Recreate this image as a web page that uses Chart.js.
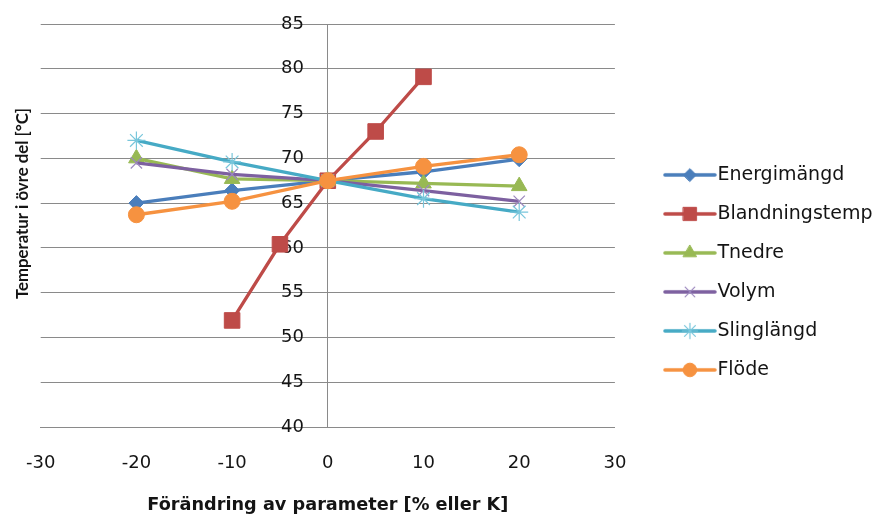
<!DOCTYPE html>
<html>
<head>
<meta charset="utf-8">
<script src="https://cdn.jsdelivr.net/npm/chart.js@4/dist/chart.umd.min.js"></script>
<style>
  html, body { margin: 0; padding: 0; background: #fff; }
  #wrap { width: 880px; height: 516px; position: relative; }
</style>
</head>
<body>
<div id="wrap"><canvas id="c" width="880" height="516"></canvas></div>
<script>
// Sensitivity of the upper-tank temperature to each parameter change
const seriesNames = ['Energimängd', 'Blandningstemp', 'Tnedre', 'Volym', 'Slinglängd', 'Flöde'];
const xChange = [-20, -10, 0, 10, 20];        // % or K, most series
const xBlandning = [-10, -5, 0, 5, 10];       // K, mixing temperature
const energimangd    = [65.0, 66.4, 67.5, 68.5, 69.9];
const blandningstemp = [51.9, 60.4, 67.5, 73.0, 79.1];
const tnedre         = [70.0, 67.7, 67.5, 67.2, 66.9];
const volym          = [69.5, 68.2, 67.5, 66.4, 65.2];
const slinglangd     = [72.0, 69.6, 67.5, 65.5, 64.0];
const flode          = [63.7, 65.2, 67.5, 69.1, 70.4];
const xTickValues = [-30, -20, -10, 0, 10, 20, 30];
const yTickValues = [40, 45, 50, 55, 60, 65, 70, 75, 80, 85];

const xTitle = 'Förändring av parameter [% eller K]';
const yTitle = 'Temperatur i övre del [°C]';

const seriesX = [xChange, xBlandning, xChange, xChange, xChange, xChange];
const seriesY = [energimangd, blandningstemp, tnedre, volym, slinglangd, flode];

const looks = [
  { color: '#4A7EBB', mark: '#4A7EBB', point: 'rectRot',  r: 7.5, bw: 1 },
  { color: '#BE4B48', mark: '#BE4B48', point: 'rect',     r: 11,  bw: 1 },
  { color: '#98B954', mark: '#98B954', point: 'triangle', r: 9,   bw: 1 },
  { color: '#7D60A0', mark: '#9C88BE', point: 'crossRot', r: 8,   bw: 1.2 },
  { color: '#46AAC5', mark: '#78C6DB', point: 'star',     r: 9,   bw: 1.2 },
  { color: '#F69240', mark: '#F69240', point: 'circle',   r: 8,   bw: 1 }
];

const FONT = '"DejaVu Sans", sans-serif';
const TEXT = '#141414';
const GRID = '#8a8a8a';
const Y_LABEL_AT = -2.5;   // x value where the y tick labels end (just left of the 0 axis)

// Legend swatch: a short line with the series marker in the middle
function legendSwatch(lk) {
  const cv = document.createElement('canvas');
  cv.width = 54; cv.height = 22;
  const g = cv.getContext('2d');
  g.strokeStyle = lk.color; g.lineWidth = 3.5; g.lineCap = 'round';
  g.beginPath(); g.moveTo(2, 11); g.lineTo(52, 11); g.stroke();
  g.fillStyle = lk.mark; g.strokeStyle = lk.mark; g.lineWidth = lk.bw;
  Chart.helpers.drawPoint(g, { pointStyle: lk.point, radius: lk.r * 0.85, rotation: 0, borderWidth: lk.bw }, 27, 11);
  return cv;
}

const datasets = seriesNames.map((name, i) => ({
  label: name,
  data: seriesX[i].map((x, k) => ({ x: x, y: seriesY[i][k] })),
  showLine: true,
  borderColor: looks[i].color,
  backgroundColor: looks[i].mark,
  borderWidth: 3.3,
  tension: 0,
  pointStyle: looks[i].point,
  pointRadius: looks[i].r,
  pointHoverRadius: looks[i].r,
  pointBackgroundColor: looks[i].mark,
  pointBorderColor: looks[i].mark,
  pointBorderWidth: looks[i].bw,
  order: seriesNames.length - i
}));

const swatches = looks.map(legendSwatch);

// Raise the rotated y-axis title a little above the middle of the plot
const yTitleLift = {
  id: 'yTitleLift',
  afterLayout(chart) {
    const s = chart.scales.yTitle;
    s.top -= 22; s.bottom -= 22;
  }
};

new Chart(document.getElementById('c'), {
  type: 'scatter',
  data: { datasets: datasets },
  plugins: [yTitleLift],
  options: {
    responsive: false,
    animation: false,
    layout: { padding: { top: 24, right: -2.5, bottom: 0, left: 0 } },
    plugins: {
      tooltip: { enabled: false },
      legend: {
        position: 'right',
        align: 'center',
        maxWidth: 320,
        title: { display: true, text: '', font: { size: 4 }, padding: 0 },
        labels: {
          usePointStyle: true,
          pointStyleWidth: 36,
          boxHeight: 19,
          padding: 20,
          color: TEXT,
          font: { family: FONT, size: 19 },
          sort: (a, b) => a.datasetIndex - b.datasetIndex,
          generateLabels: (chart) => {
            const items = Chart.defaults.plugins.legend.labels.generateLabels(chart);
            items.forEach(it => { it.pointStyle = swatches[it.datasetIndex]; });
            return items;
          }
        }
      }
    },
    scales: {
      x: {
        type: 'linear',
        position: 'bottom',
        min: xTickValues[0],
        max: xTickValues[xTickValues.length - 1],
        afterBuildTicks: (s) => { s.ticks = xTickValues.map(v => ({ value: v })); },
        afterFit: (s) => { s.height = 89; },
        ticks: { padding: 26, color: TEXT, font: { family: FONT, size: 18 } },
        grid: { display: false, drawTicks: false },
        border: { display: true, color: GRID, width: 1 },
        title: {
          display: true, text: xTitle, color: TEXT,
          font: { family: FONT, size: 17.7, weight: 'bold' },
          padding: { top: 18, bottom: 0 }
        }
      },
      y: {
        type: 'linear',
        position: { x: 0 },
        min: yTickValues[0],
        max: yTickValues[yTickValues.length - 1],
        afterBuildTicks: (s) => { s.ticks = yTickValues.map(v => ({ value: v })); },
        ticks: { display: false },
        grid: { color: GRID, lineWidth: 1, drawTicks: false },
        border: { display: true, color: GRID, width: 1 }
      },
      yLab: {
        type: 'linear',
        axis: 'y',
        position: { x: Y_LABEL_AT },
        min: yTickValues[0],
        max: yTickValues[yTickValues.length - 1],
        afterBuildTicks: (s) => { s.ticks = yTickValues.map(v => ({ value: v })); },
        ticks: { padding: 0, color: TEXT, font: { family: FONT, size: 18 } },
        grid: { display: false, drawTicks: false },
        border: { display: false }
      },
      yTitle: {
        type: 'linear',
        axis: 'y',
        position: 'left',
        ticks: { display: false },
        grid: { display: false, drawTicks: false },
        border: { display: false },
        title: {
          display: true, text: yTitle, color: TEXT,
          font: { family: 'Lato, sans-serif', size: 16.8, weight: 'bold' },
          padding: { top: 12, bottom: 0 }
        },
        afterFit: (s) => { s.width = 40; }
      },
      gap: {
        type: 'linear',
        axis: 'y',
        position: 'right',
        ticks: { display: false },
        grid: { display: false, drawTicks: false },
        border: { display: false },
        afterFit: (s) => { s.width = 37; }
      }
    }
  }
});
</script>
</body>
</html>
